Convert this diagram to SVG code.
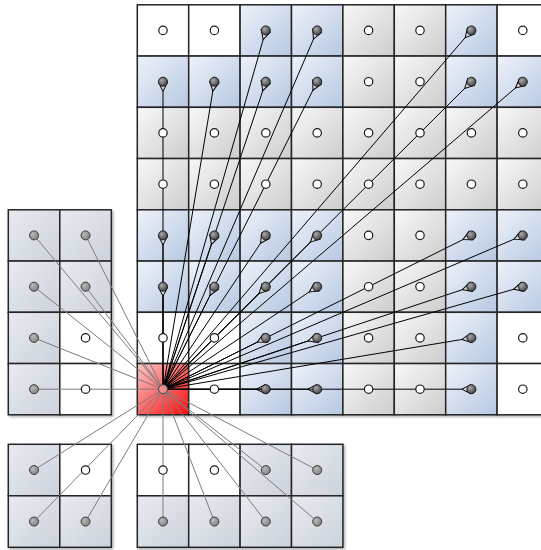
<svg xmlns="http://www.w3.org/2000/svg" width="541" height="550" viewBox="0 0 541 550">
<defs>
<linearGradient id="gG" x1="0" y1="0" x2="1" y2="1"><stop offset="0" stop-color="#f8f8f8"/><stop offset="1" stop-color="#cdcdcd"/></linearGradient>
<linearGradient id="gB" x1="0" y1="0" x2="1" y2="1"><stop offset="0" stop-color="#eef2fa"/><stop offset="1" stop-color="#b6c8e2"/></linearGradient>
<linearGradient id="gL" x1="0" y1="0" x2="1" y2="1"><stop offset="0" stop-color="#e8ebf0"/><stop offset="1" stop-color="#ccd2dc"/></linearGradient>
<linearGradient id="gR" x1="0" y1="0" x2="1" y2="1"><stop offset="0" stop-color="#f8caca"/><stop offset="1" stop-color="#ff0a0a"/></linearGradient>
<radialGradient id="gD" cx="0.35" cy="0.35" r="0.75"><stop offset="0" stop-color="#a8a8a8"/><stop offset="1" stop-color="#3c3c3c"/></radialGradient>
<radialGradient id="gDL" cx="0.35" cy="0.35" r="0.75"><stop offset="0" stop-color="#b8b8b8"/><stop offset="1" stop-color="#808080"/></radialGradient>
<filter id="sh" x="-5%" y="-5%" width="115%" height="115%"><feDropShadow dx="1.5" dy="1.5" stdDeviation="1.2" flood-color="#000" flood-opacity="0.3"/></filter>
<marker id="ah" markerUnits="userSpaceOnUse" orient="auto" markerWidth="12" markerHeight="10" refX="10" refY="5" overflow="visible"><path d="M9.5,0.3 L9.5,9.7 L0.5,5 Z" fill="#dcdcdc" stroke="#000" stroke-width="1"/></marker>
</defs>
<style>
.cell rect{stroke:#262626;stroke-width:1.5}
.w{fill:#fff}.g{fill:url(#gG)}.b{fill:url(#gB)}.l{fill:url(#gL)}.r{fill:url(#gR)}
.dw{fill:#fff;stroke:#1a1a1a;stroke-width:1.2}
.db{fill:url(#gD);stroke:#1a1a1a;stroke-width:1}
.dl{fill:url(#gDL);stroke:#3a3a3a;stroke-width:1}
.dr{fill:#f08c8c;stroke:#444;stroke-width:1}
.k{stroke:#000;stroke-width:1;fill:none;marker-end:url(#ah)}
.m{stroke:#7c7c7c;stroke-width:1;fill:none}
</style>
<g id="main-grid" class="cell" filter="url(#sh)">
<g id="m-r0c0"><rect class="w" x="137.3" y="4.8" width="51.4" height="51.25"/></g>
<g id="m-r0c1"><rect class="w" x="188.7" y="4.8" width="51.4" height="51.25"/></g>
<g id="m-r0c2"><rect class="b" x="240.1" y="4.8" width="51.4" height="51.25"/></g>
<g id="m-r0c3"><rect class="b" x="291.5" y="4.8" width="51.4" height="51.25"/></g>
<g id="m-r0c4"><rect class="g" x="342.9" y="4.8" width="51.4" height="51.25"/></g>
<g id="m-r0c5"><rect class="g" x="394.3" y="4.8" width="51.4" height="51.25"/></g>
<g id="m-r0c6"><rect class="b" x="445.7" y="4.8" width="51.4" height="51.25"/></g>
<g id="m-r0c7"><rect class="w" x="497.1" y="4.8" width="51.4" height="51.25"/></g>
<g id="m-r1c0"><rect class="b" x="137.3" y="56.05" width="51.4" height="51.25"/></g>
<g id="m-r1c1"><rect class="b" x="188.7" y="56.05" width="51.4" height="51.25"/></g>
<g id="m-r1c2"><rect class="b" x="240.1" y="56.05" width="51.4" height="51.25"/></g>
<g id="m-r1c3"><rect class="b" x="291.5" y="56.05" width="51.4" height="51.25"/></g>
<g id="m-r1c4"><rect class="g" x="342.9" y="56.05" width="51.4" height="51.25"/></g>
<g id="m-r1c5"><rect class="g" x="394.3" y="56.05" width="51.4" height="51.25"/></g>
<g id="m-r1c6"><rect class="b" x="445.7" y="56.05" width="51.4" height="51.25"/></g>
<g id="m-r1c7"><rect class="b" x="497.1" y="56.05" width="51.4" height="51.25"/></g>
<g id="m-r2c0"><rect class="g" x="137.3" y="107.3" width="51.4" height="51.25"/></g>
<g id="m-r2c1"><rect class="g" x="188.7" y="107.3" width="51.4" height="51.25"/></g>
<g id="m-r2c2"><rect class="g" x="240.1" y="107.3" width="51.4" height="51.25"/></g>
<g id="m-r2c3"><rect class="g" x="291.5" y="107.3" width="51.4" height="51.25"/></g>
<g id="m-r2c4"><rect class="g" x="342.9" y="107.3" width="51.4" height="51.25"/></g>
<g id="m-r2c5"><rect class="g" x="394.3" y="107.3" width="51.4" height="51.25"/></g>
<g id="m-r2c6"><rect class="g" x="445.7" y="107.3" width="51.4" height="51.25"/></g>
<g id="m-r2c7"><rect class="g" x="497.1" y="107.3" width="51.4" height="51.25"/></g>
<g id="m-r3c0"><rect class="g" x="137.3" y="158.55" width="51.4" height="51.25"/></g>
<g id="m-r3c1"><rect class="g" x="188.7" y="158.55" width="51.4" height="51.25"/></g>
<g id="m-r3c2"><rect class="g" x="240.1" y="158.55" width="51.4" height="51.25"/></g>
<g id="m-r3c3"><rect class="g" x="291.5" y="158.55" width="51.4" height="51.25"/></g>
<g id="m-r3c4"><rect class="g" x="342.9" y="158.55" width="51.4" height="51.25"/></g>
<g id="m-r3c5"><rect class="g" x="394.3" y="158.55" width="51.4" height="51.25"/></g>
<g id="m-r3c6"><rect class="g" x="445.7" y="158.55" width="51.4" height="51.25"/></g>
<g id="m-r3c7"><rect class="g" x="497.1" y="158.55" width="51.4" height="51.25"/></g>
<g id="m-r4c0"><rect class="b" x="137.3" y="209.8" width="51.4" height="51.25"/></g>
<g id="m-r4c1"><rect class="b" x="188.7" y="209.8" width="51.4" height="51.25"/></g>
<g id="m-r4c2"><rect class="b" x="240.1" y="209.8" width="51.4" height="51.25"/></g>
<g id="m-r4c3"><rect class="b" x="291.5" y="209.8" width="51.4" height="51.25"/></g>
<g id="m-r4c4"><rect class="g" x="342.9" y="209.8" width="51.4" height="51.25"/></g>
<g id="m-r4c5"><rect class="g" x="394.3" y="209.8" width="51.4" height="51.25"/></g>
<g id="m-r4c6"><rect class="b" x="445.7" y="209.8" width="51.4" height="51.25"/></g>
<g id="m-r4c7"><rect class="b" x="497.1" y="209.8" width="51.4" height="51.25"/></g>
<g id="m-r5c0"><rect class="b" x="137.3" y="261.05" width="51.4" height="51.25"/></g>
<g id="m-r5c1"><rect class="b" x="188.7" y="261.05" width="51.4" height="51.25"/></g>
<g id="m-r5c2"><rect class="b" x="240.1" y="261.05" width="51.4" height="51.25"/></g>
<g id="m-r5c3"><rect class="b" x="291.5" y="261.05" width="51.4" height="51.25"/></g>
<g id="m-r5c4"><rect class="g" x="342.9" y="261.05" width="51.4" height="51.25"/></g>
<g id="m-r5c5"><rect class="g" x="394.3" y="261.05" width="51.4" height="51.25"/></g>
<g id="m-r5c6"><rect class="b" x="445.7" y="261.05" width="51.4" height="51.25"/></g>
<g id="m-r5c7"><rect class="b" x="497.1" y="261.05" width="51.4" height="51.25"/></g>
<g id="m-r6c0"><rect class="w" x="137.3" y="312.3" width="51.4" height="51.25"/></g>
<g id="m-r6c1"><rect class="w" x="188.7" y="312.3" width="51.4" height="51.25"/></g>
<g id="m-r6c2"><rect class="b" x="240.1" y="312.3" width="51.4" height="51.25"/></g>
<g id="m-r6c3"><rect class="b" x="291.5" y="312.3" width="51.4" height="51.25"/></g>
<g id="m-r6c4"><rect class="g" x="342.9" y="312.3" width="51.4" height="51.25"/></g>
<g id="m-r6c5"><rect class="g" x="394.3" y="312.3" width="51.4" height="51.25"/></g>
<g id="m-r6c6"><rect class="b" x="445.7" y="312.3" width="51.4" height="51.25"/></g>
<g id="m-r6c7"><rect class="w" x="497.1" y="312.3" width="51.4" height="51.25"/></g>
<g id="m-r7c0"><rect class="r" x="137.3" y="363.55" width="51.4" height="51.25"/></g>
<g id="m-r7c1"><rect class="w" x="188.7" y="363.55" width="51.4" height="51.25"/></g>
<g id="m-r7c2"><rect class="b" x="240.1" y="363.55" width="51.4" height="51.25"/></g>
<g id="m-r7c3"><rect class="b" x="291.5" y="363.55" width="51.4" height="51.25"/></g>
<g id="m-r7c4"><rect class="g" x="342.9" y="363.55" width="51.4" height="51.25"/></g>
<g id="m-r7c5"><rect class="g" x="394.3" y="363.55" width="51.4" height="51.25"/></g>
<g id="m-r7c6"><rect class="b" x="445.7" y="363.55" width="51.4" height="51.25"/></g>
<g id="m-r7c7"><rect class="w" x="497.1" y="363.55" width="51.4" height="51.25"/></g>
</g>
<g id="left-block" class="cell" filter="url(#sh)">
<g id="l-r0c0"><rect class="l" x="8.3" y="209.8" width="51.5" height="51.25"/></g>
<g id="l-r0c1"><rect class="l" x="59.8" y="209.8" width="51.5" height="51.25"/></g>
<g id="l-r1c0"><rect class="l" x="8.3" y="261.05" width="51.5" height="51.25"/></g>
<g id="l-r1c1"><rect class="l" x="59.8" y="261.05" width="51.5" height="51.25"/></g>
<g id="l-r2c0"><rect class="l" x="8.3" y="312.3" width="51.5" height="51.25"/></g>
<g id="l-r2c1"><rect class="w" x="59.8" y="312.3" width="51.5" height="51.25"/></g>
<g id="l-r3c0"><rect class="l" x="8.3" y="363.55" width="51.5" height="51.25"/></g>
<g id="l-r3c1"><rect class="w" x="59.8" y="363.55" width="51.5" height="51.25"/></g>
</g>
<g id="bottom-left-block" class="cell" filter="url(#sh)">
<g id="bl-r0c0"><rect class="l" x="8.3" y="444.3" width="51.5" height="51.5"/></g>
<g id="bl-r0c1"><rect class="w" x="59.8" y="444.3" width="51.5" height="51.5"/></g>
<g id="bl-r1c0"><rect class="l" x="8.3" y="495.8" width="51.5" height="51.5"/></g>
<g id="bl-r1c1"><rect class="l" x="59.8" y="495.8" width="51.5" height="51.5"/></g>
</g>
<g id="bottom-block" class="cell" filter="url(#sh)">
<g id="b-r0c0"><rect class="w" x="137.3" y="444.3" width="51.4" height="51.5"/></g>
<g id="b-r0c1"><rect class="w" x="188.7" y="444.3" width="51.4" height="51.5"/></g>
<g id="b-r0c2"><rect class="l" x="240.1" y="444.3" width="51.4" height="51.5"/></g>
<g id="b-r0c3"><rect class="l" x="291.5" y="444.3" width="51.4" height="51.5"/></g>
<g id="b-r1c0"><rect class="l" x="137.3" y="495.8" width="51.4" height="51.5"/></g>
<g id="b-r1c1"><rect class="l" x="188.7" y="495.8" width="51.4" height="51.5"/></g>
<g id="b-r1c2"><rect class="l" x="240.1" y="495.8" width="51.4" height="51.5"/></g>
<g id="b-r1c3"><rect class="l" x="291.5" y="495.8" width="51.4" height="51.5"/></g>
</g>
<g id="connectors">
<g id="gray-links">
<line class="m" x1="163" y1="389.2" x2="34.05" y2="235.4"/>
<line class="m" x1="163" y1="389.2" x2="85.55" y2="235.4"/>
<line class="m" x1="163" y1="389.2" x2="34.05" y2="286.7"/>
<line class="m" x1="163" y1="389.2" x2="85.55" y2="286.7"/>
<line class="m" x1="163" y1="389.2" x2="34.05" y2="337.9"/>
<line class="m" x1="163" y1="389.2" x2="34.05" y2="389.2"/>
<line class="m" x1="163" y1="389.2" x2="34.05" y2="470.05"/>
<line class="m" x1="163" y1="389.2" x2="34.05" y2="521.55"/>
<line class="m" x1="163" y1="389.2" x2="85.55" y2="521.55"/>
<line class="m" x1="163" y1="389.2" x2="163" y2="521.55"/>
<line class="m" x1="163" y1="389.2" x2="214.4" y2="521.55"/>
<line class="m" x1="163" y1="389.2" x2="265.8" y2="470.05"/>
<line class="m" x1="163" y1="389.2" x2="265.8" y2="521.55"/>
<line class="m" x1="163" y1="389.2" x2="317.2" y2="470.05"/>
<line class="m" x1="163" y1="389.2" x2="317.2" y2="521.55"/>
</g>
<g id="black-links">
<line class="k" x1="163" y1="389.2" x2="265.8" y2="30.4"/>
<line class="k" x1="163" y1="389.2" x2="317.2" y2="30.4"/>
<line class="k" x1="163" y1="389.2" x2="471.4" y2="30.4"/>
<line class="k" x1="163" y1="389.2" x2="163" y2="81.7"/>
<line class="k" x1="163" y1="389.2" x2="214.4" y2="81.7"/>
<line class="k" x1="163" y1="389.2" x2="265.8" y2="81.7"/>
<line class="k" x1="163" y1="389.2" x2="317.2" y2="81.7"/>
<line class="k" x1="163" y1="389.2" x2="471.4" y2="81.7"/>
<line class="k" x1="163" y1="389.2" x2="522.8" y2="81.7"/>
<line class="k" x1="163" y1="389.2" x2="163" y2="235.4"/>
<line class="k" x1="163" y1="389.2" x2="214.4" y2="235.4"/>
<line class="k" x1="163" y1="389.2" x2="265.8" y2="235.4"/>
<line class="k" x1="163" y1="389.2" x2="317.2" y2="235.4"/>
<line class="k" x1="163" y1="389.2" x2="471.4" y2="235.4"/>
<line class="k" x1="163" y1="389.2" x2="522.8" y2="235.4"/>
<line class="k" x1="163" y1="389.2" x2="163" y2="286.7"/>
<line class="k" x1="163" y1="389.2" x2="214.4" y2="286.7"/>
<line class="k" x1="163" y1="389.2" x2="265.8" y2="286.7"/>
<line class="k" x1="163" y1="389.2" x2="317.2" y2="286.7"/>
<line class="k" x1="163" y1="389.2" x2="471.4" y2="286.7"/>
<line class="k" x1="163" y1="389.2" x2="522.8" y2="286.7"/>
<line class="k" x1="163" y1="389.2" x2="265.8" y2="337.9"/>
<line class="k" x1="163" y1="389.2" x2="317.2" y2="337.9"/>
<line class="k" x1="163" y1="389.2" x2="471.4" y2="337.9"/>
<line class="k" x1="163" y1="389.2" x2="265.8" y2="389.2"/>
<line class="k" x1="163" y1="389.2" x2="317.2" y2="389.2"/>
<line class="k" x1="163" y1="389.2" x2="471.4" y2="389.2"/>
</g>
</g>
<g id="dots">
<circle class="dw" cx="163" cy="30.4" r="4.2"/><circle class="dw" cx="214.4" cy="30.4" r="4.2"/><circle class="db" cx="265.8" cy="30.4" r="4.5"/><circle class="db" cx="317.2" cy="30.4" r="4.5"/><circle class="dw" cx="368.6" cy="30.4" r="4.2"/><circle class="dw" cx="420" cy="30.4" r="4.2"/><circle class="db" cx="471.4" cy="30.4" r="4.5"/><circle class="dw" cx="522.8" cy="30.4" r="4.2"/>
<circle class="db" cx="163" cy="81.7" r="4.5"/><circle class="db" cx="214.4" cy="81.7" r="4.5"/><circle class="db" cx="265.8" cy="81.7" r="4.5"/><circle class="db" cx="317.2" cy="81.7" r="4.5"/><circle class="dw" cx="368.6" cy="81.7" r="4.2"/><circle class="dw" cx="420" cy="81.7" r="4.2"/><circle class="db" cx="471.4" cy="81.7" r="4.5"/><circle class="db" cx="522.8" cy="81.7" r="4.5"/>
<circle class="dw" cx="163" cy="132.9" r="4.2"/><circle class="dw" cx="214.4" cy="132.9" r="4.2"/><circle class="dw" cx="265.8" cy="132.9" r="4.2"/><circle class="dw" cx="317.2" cy="132.9" r="4.2"/><circle class="dw" cx="368.6" cy="132.9" r="4.2"/><circle class="dw" cx="420" cy="132.9" r="4.2"/><circle class="dw" cx="471.4" cy="132.9" r="4.2"/><circle class="dw" cx="522.8" cy="132.9" r="4.2"/>
<circle class="dw" cx="163" cy="184.2" r="4.2"/><circle class="dw" cx="214.4" cy="184.2" r="4.2"/><circle class="dw" cx="265.8" cy="184.2" r="4.2"/><circle class="dw" cx="317.2" cy="184.2" r="4.2"/><circle class="dw" cx="368.6" cy="184.2" r="4.2"/><circle class="dw" cx="420" cy="184.2" r="4.2"/><circle class="dw" cx="471.4" cy="184.2" r="4.2"/><circle class="dw" cx="522.8" cy="184.2" r="4.2"/>
<circle class="db" cx="163" cy="235.4" r="4.5"/><circle class="db" cx="214.4" cy="235.4" r="4.5"/><circle class="db" cx="265.8" cy="235.4" r="4.5"/><circle class="db" cx="317.2" cy="235.4" r="4.5"/><circle class="dw" cx="368.6" cy="235.4" r="4.2"/><circle class="dw" cx="420" cy="235.4" r="4.2"/><circle class="db" cx="471.4" cy="235.4" r="4.5"/><circle class="db" cx="522.8" cy="235.4" r="4.5"/>
<circle class="db" cx="163" cy="286.7" r="4.5"/><circle class="db" cx="214.4" cy="286.7" r="4.5"/><circle class="db" cx="265.8" cy="286.7" r="4.5"/><circle class="db" cx="317.2" cy="286.7" r="4.5"/><circle class="dw" cx="368.6" cy="286.7" r="4.2"/><circle class="dw" cx="420" cy="286.7" r="4.2"/><circle class="db" cx="471.4" cy="286.7" r="4.5"/><circle class="db" cx="522.8" cy="286.7" r="4.5"/>
<circle class="dw" cx="163" cy="337.9" r="4.2"/><circle class="dw" cx="214.4" cy="337.9" r="4.2"/><circle class="db" cx="265.8" cy="337.9" r="4.5"/><circle class="db" cx="317.2" cy="337.9" r="4.5"/><circle class="dw" cx="368.6" cy="337.9" r="4.2"/><circle class="dw" cx="420" cy="337.9" r="4.2"/><circle class="db" cx="471.4" cy="337.9" r="4.5"/><circle class="dw" cx="522.8" cy="337.9" r="4.2"/>
<circle class="dr" cx="163" cy="389.2" r="4.5"/><circle class="dw" cx="214.4" cy="389.2" r="4.2"/><circle class="db" cx="265.8" cy="389.2" r="4.5"/><circle class="db" cx="317.2" cy="389.2" r="4.5"/><circle class="dw" cx="368.6" cy="389.2" r="4.2"/><circle class="dw" cx="420" cy="389.2" r="4.2"/><circle class="db" cx="471.4" cy="389.2" r="4.5"/><circle class="dw" cx="522.8" cy="389.2" r="4.2"/>
<circle class="dl" cx="34.05" cy="235.4" r="4.5"/><circle class="dl" cx="85.55" cy="235.4" r="4.5"/>
<circle class="dl" cx="34.05" cy="286.7" r="4.5"/><circle class="dl" cx="85.55" cy="286.7" r="4.5"/>
<circle class="dl" cx="34.05" cy="337.9" r="4.5"/><circle class="dw" cx="85.55" cy="337.9" r="4.2"/>
<circle class="dl" cx="34.05" cy="389.2" r="4.5"/><circle class="dw" cx="85.55" cy="389.2" r="4.2"/>
<circle class="dl" cx="34.05" cy="470.05" r="4.5"/><circle class="dw" cx="85.55" cy="470.05" r="4.2"/>
<circle class="dl" cx="34.05" cy="521.55" r="4.5"/><circle class="dl" cx="85.55" cy="521.55" r="4.5"/>
<circle class="dw" cx="163" cy="470.05" r="4.2"/><circle class="dw" cx="214.4" cy="470.05" r="4.2"/><circle class="dl" cx="265.8" cy="470.05" r="4.5"/><circle class="dl" cx="317.2" cy="470.05" r="4.5"/>
<circle class="dl" cx="163" cy="521.55" r="4.5"/><circle class="dl" cx="214.4" cy="521.55" r="4.5"/><circle class="dl" cx="265.8" cy="521.55" r="4.5"/><circle class="dl" cx="317.2" cy="521.55" r="4.5"/>
</g>
</svg>
